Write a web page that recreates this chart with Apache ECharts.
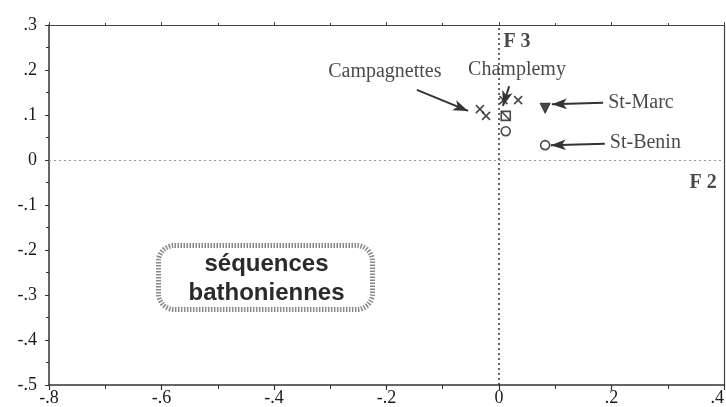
<!DOCTYPE html>
<html><head><meta charset="utf-8">
<script src="https://cdn.jsdelivr.net/npm/echarts@6/dist/echarts.min.js"></script>
<style>html,body{margin:0;padding:0;background:#fff}#c{width:726px;height:407px}</style>
</head><body><div id="c"></div>
<script>
// axis ranges
const xMin = -0.8, xMax = 0.4, xStep = 0.2;
const yMin = -0.5, yMax = 0.3, yStep = 0.1;

// points (F2, F3)
const crossPts = [[-0.034, 0.113], [-0.023, 0.098], [0.034, 0.133], [0.008, 0.133]];
const squarePts = [[0.012, 0.098]];
const openCirclePts = [[0.012, 0.064], [0.082, 0.033]];
const trianglePts = [[0.082, 0.115]];

// annotations: name, label position, arrow from, arrow to
const labelNames = ['Campagnettes', 'Champlemy', 'St-Marc', 'St-Benin'];
const labelPos = [[-0.203, 0.196], [0.032, 0.2], [0.194, 0.127], [0.197, 0.038]];
const labelAlign = ['center', 'center', 'left', 'left'];
const arrowFrom = [[-0.146, 0.156], [0.018, 0.164], [0.185, 0.127], [0.188, 0.036]];
const arrowTo = [[-0.055, 0.109], [0.007, 0.12], [0.094, 0.124], [0.092, 0.033]];

const axisNames = ['F 3', 'F 2'];
const axisNamePos = [[0.032, 0.262], [0.363, -0.051]];

const fmt = v => {
  if (Math.abs(v) < 1e-9) return '0';
  return (v < 0 ? '-' : '') + Math.abs(v).toFixed(1).replace(/^0/, '');
};

const ink = '#1a1a1a';
const serif = 'Liberation Serif';

const chart = echarts.init(document.getElementById('c'));
chart.setOption({
  animation: false,
  grid: { left: 49, right: 2, top: 25, bottom: 22, containLabel: false, outerBoundsMode: 'none' },
  xAxis: [{
    type: 'value', min: xMin, max: xMax, interval: xStep,
    axisLine: { show: true, onZero: false, lineStyle: { color: '#333', width: 1.5 } },
    axisTick: { show: true, length: 5, lineStyle: { color: '#333', width: 1.2 } },
    minorTick: { show: true, splitNumber: 2, length: 4, lineStyle: { color: '#333' } },
    splitLine: { show: false },
    axisLabel: { formatter: fmt, fontFamily: serif, fontSize: 18, color: ink, margin: 4,
      hideOverlap: false, alignMaxLabel: 'right' }
  }, {
    type: 'value', position: 'top', min: xMin, max: xMax, interval: xStep,
    axisLine: { show: true, onZero: false, lineStyle: { color: '#444', width: 1.2 } },
    axisTick: { show: true, length: 3, lineStyle: { color: '#444' } },
    minorTick: { show: true, splitNumber: 2, length: 2, lineStyle: { color: '#444' } },
    splitLine: { show: false }, axisLabel: { show: false }
  }],
  yAxis: [{
    type: 'value', min: yMin, max: yMax, interval: yStep,
    axisLine: { show: true, onZero: false, lineStyle: { color: '#333', width: 1.5 } },
    axisTick: { show: true, length: 4, lineStyle: { color: '#333' } },
    minorTick: { show: true, splitNumber: 2, length: 3, lineStyle: { color: '#333' } },
    splitLine: { show: false },
    axisLabel: { formatter: fmt, fontFamily: serif, fontSize: 18, color: ink, margin: 12, hideOverlap: false }
  }, {
    type: 'value', position: 'right', min: yMin, max: yMax, interval: yStep,
    axisLine: { show: true, onZero: false, lineStyle: { color: '#444', width: 1.2 } },
    axisTick: { show: false }, splitLine: { show: false }, axisLabel: { show: false }
  }],
  series: [
    {
      type: 'scatter', data: crossPts, symbol: 'path://M0,0L10,10M10,0L0,10', symbolSize: 8,
      itemStyle: { color: 'none', borderColor: ink, borderWidth: 1.6 },
      markLine: {
        silent: true, symbol: 'none', label: { show: false },
        data: [
          { xAxis: 0, lineStyle: { type: [2, 3], color: '#333', width: 1.5 } },
          { yAxis: 0, lineStyle: { type: [2, 3], color: '#999', width: 1.2 } }
        ]
      }
    },
    {
      type: 'scatter', data: squarePts, symbol: 'path://M0,0L10,0L10,10L0,10ZM1,1L9,9', symbolSize: 9,
      itemStyle: { color: 'none', borderColor: ink, borderWidth: 1.6 }
    },
    {
      type: 'scatter', data: openCirclePts, symbol: 'circle', symbolSize: 9,
      itemStyle: { color: '#fff', borderColor: ink, borderWidth: 1.6 }
    },
    {
      type: 'scatter', data: trianglePts, symbol: 'path://M0,0L10,0L5,9Z', symbolSize: 10,
      itemStyle: { color: ink, borderColor: ink, borderWidth: 1 }
    },
    {
      type: 'scatter', symbolSize: 0, silent: true,
      data: labelNames.map((n, i) => ({
        value: labelPos[i], name: n,
        label: { show: true, position: 'inside', align: labelAlign[i], formatter: n,
          fontFamily: serif, fontSize: 20, color: ink }
      })),
      markLine: {
        silent: true, symbol: ['none', 'arrow'], symbolSize: [8, 15], label: { show: false },
        lineStyle: { type: 'solid', color: '#333', width: 2 },
        data: arrowFrom.map((f, i) => [{ coord: f }, { coord: arrowTo[i] }])
      }
    },
    {
      type: 'scatter', symbolSize: 0, silent: true,
      data: axisNames.map((n, i) => ({
        value: axisNamePos[i],
        label: { show: true, position: 'inside', formatter: n, fontFamily: serif,
          fontWeight: 'bold', fontSize: 20, color: ink }
      }))
    }
  ],
  graphic: [{
    type: 'group', left: 156, top: 243,
    children: [
      { type: 'rect', shape: { x: 0, y: 0, width: 214, height: 64, r: 16 },
        style: { fill: '#fff', stroke: '#888', lineWidth: 5, lineDash: [1.5, 1.5] } },
      { type: 'text', x: 108, y: 19, style: { text: 'séquences', font: 'bold 24px "Liberation Sans"',
        fill: '#2a2a2a', align: 'center', verticalAlign: 'middle' } },
      { type: 'text', x: 108, y: 48, style: { text: 'bathoniennes', font: 'bold 24px "Liberation Sans"',
        fill: '#2a2a2a', align: 'center', verticalAlign: 'middle' } }
    ]
  }]
});
</script></body></html>
